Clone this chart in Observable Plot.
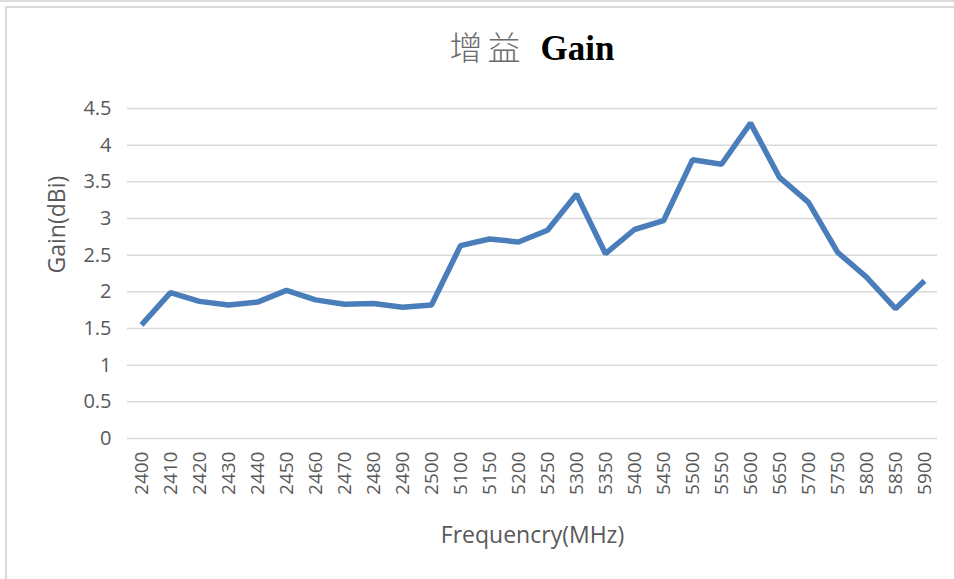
<!DOCTYPE html>
<html>
<head>
<meta charset="utf-8">
<script src="https://cdn.jsdelivr.net/npm/d3@7"></script>
<script src="https://cdn.jsdelivr.net/npm/@observablehq/plot@0.6"></script>
<style>
  html, body { margin: 0; padding: 0; background: #fff; }
  #wrap { position: relative; width: 954px; height: 579px; overflow: hidden; }
  #topline { position: absolute; left: 0; top: 0; width: 954px; height: 2px; background: #dcdcdc; }
  #frame { position: absolute; left: 5px; top: 6px; width: 960px; height: 600px;
           border-left: 2px solid #d9d9d9; border-top: 2px solid #d9d9d9; box-sizing: border-box; }
  #title { position: absolute; left: 0; top: 23px; width: 1064px; text-align: center; white-space: nowrap; line-height: 46px; }
  #title .cn { font-family: "Noto Sans CJK SC", sans-serif; font-weight: 300; font-size: 33px; color: #6b6b6b; letter-spacing: 5px; }
  #title .en { font-family: "Liberation Serif", serif; font-weight: bold; font-size: 35px; color: #000; margin-left: 15px; }
  #chart { position: absolute; left: 0; top: 80px; }
</style>
</head>
<body>
<div id="wrap">
  <div id="topline"></div>
  <div id="frame"></div>
  <div id="title"><span class="cn">增益</span><span class="en">Gain</span></div>
  <div id="chart"></div>
</div>
<script>
const frequencies = ["2400","2410","2420","2430","2440","2450","2460","2470","2480","2490","2500",
  "5100","5150","5200","5250","5300","5350","5400","5450","5500","5550","5600","5650","5700","5750","5800","5850","5900"];
const gains = [1.55,1.99,1.87,1.82,1.86,2.02,1.89,1.83,1.84,1.79,1.82,
  2.63,2.72,2.68,2.84,3.33,2.52,2.85,2.97,3.80,3.74,4.30,3.56,3.22,2.54,2.20,1.77,2.15];
const yTicks = [0,0.5,1,1.5,2,2.5,3,3.5,4,4.5];

const data = frequencies.map((f, i) => ({freq: f, gain: gains[i]}));

const plot = Plot.plot({
  width: 954,
  height: 499,
  marginLeft: 127,
  marginRight: 17,
  marginTop: 28,
  marginBottom: 141,
  style: {fontFamily: "'Open Sans', sans-serif", color: "#595959", background: "transparent"},
  x: {type: "point", domain: frequencies, padding: 0.25, label: null},
  y: {domain: [0, 4.5], label: null},
  marks: [
    Plot.ruleY(yTicks, {stroke: "#d9d9d9", strokeWidth: 1.5}),
    Plot.axisX({tickSize: 0, tickPadding: 13, tickRotate: -90, fontSize: 19, fill: "#595959", label: null}),
    Plot.axisY({ticks: yTicks, tickSize: 0, tickPadding: 16, fontSize: 20, fill: "#595959", label: null, tickFormat: d => String(d)}),
    Plot.text(["Frequencry(MHz)"], {frameAnchor: "bottom", dy: 104, fontSize: 23, fill: "#595959"}),
    Plot.text(["Gain(dBi)"], {frameAnchor: "left", dx: -70, rotate: -90, fontSize: 23, fill: "#595959"}),
    Plot.line(data, {x: "freq", y: "gain", stroke: "#4a7ebb", strokeWidth: 5.5, strokeLinejoin: "miter", strokeLinecap: "butt"})
  ]
});
document.getElementById("chart").appendChild(plot);
</script>
</body>
</html>
